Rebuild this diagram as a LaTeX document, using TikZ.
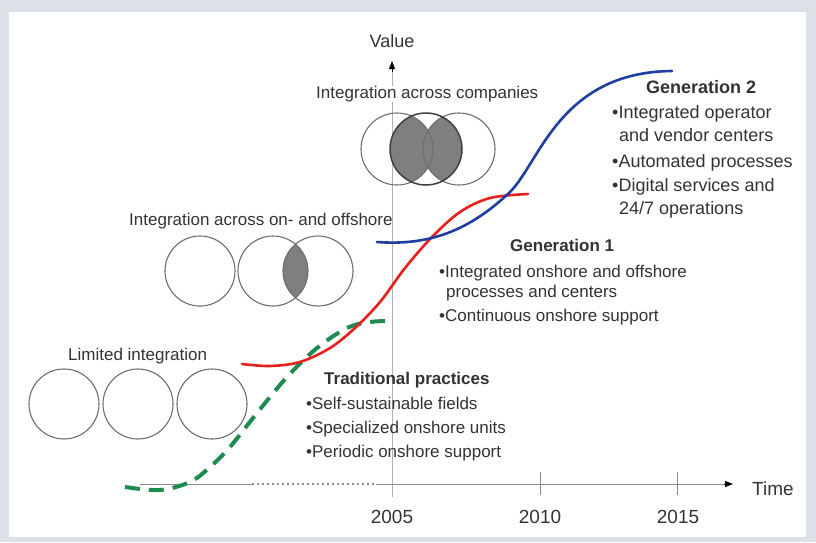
\documentclass[tikz,border=0pt]{standalone}
\usepackage{fontspec}
\setmainfont{Liberation Sans}
\usetikzlibrary{arrows.meta}
\definecolor{bgc}{HTML}{DCE1E8}
\definecolor{txt}{HTML}{333333}
\definecolor{ringc}{HTML}{6E6E6E}
\definecolor{lensgray}{HTML}{7F7F7F}
\definecolor{axisc}{HTML}{8C8C8C}
\definecolor{gen0}{HTML}{1E8C50}
\definecolor{gen1}{HTML}{E8201C}
\definecolor{gen2}{HTML}{1F3FA0}
\begin{document}
\begin{tikzpicture}[x=1pt,y=-1pt,
  lbl/.style={inner sep=0pt, anchor=base west, text=txt, font=\fontsize{17}{20}\selectfont},
  lblb/.style={lbl, font=\fontsize{17}{20}\selectfont\bfseries},
  lblg/.style={lbl, font=\fontsize{18}{21}\selectfont},
  lblgb/.style={lbl, font=\fontsize{18}{21}\selectfont\bfseries},
  axlbl/.style={inner sep=0pt, anchor=base, text=txt, font=\fontsize{19}{22}\selectfont},
  ring/.style={draw=ringc, line width=1.1pt},
  ringbold/.style={draw=black!75, line width=1.5pt},
  axisline/.style={draw=axisc, line width=0.9pt},
  tick/.style={draw=axisc, line width=0.9pt},
  curve/.style={line width=2.6pt, line cap=round},
  tip/.style={-{Triangle[length=8pt,width=6pt]}}
]
\useasboundingbox (0,0) rectangle (816,542);
\fill[bgc] (0,0) rectangle (816,542);
\fill[white] (9,12) rectangle (806,537);

% axes
\coordinate (ybot) at (392,497);
\coordinate (ytop) at (392,61);
\coordinate (xa) at (140,484);
\coordinate (xb) at (252,484);
\coordinate (xc) at (376,484);
\coordinate (xend) at (733,484);
\draw[draw=black!30, line width=0.9pt] (ybot) -- (392,72);
\draw[tip, draw=black, line width=0.9pt] (392,72) -- (ytop);
\draw[axisline] (xa) -- (xb);
\draw[axisline, line width=1.2pt, dash pattern=on 2pt off 3pt] (xb) -- (xc);
\draw[axisline] (xc) -- (724,484);
\draw[tip, draw=black, line width=0.9pt] (724,484) -- (xend);
\coordinate (t10a) at (540,472); \coordinate (t10b) at (540,495);
\coordinate (t15a) at (677,472); \coordinate (t15b) at (677,495);
\draw[tick] (t10a) -- (t10b);
\draw[tick] (t15a) -- (t15b);

\node[inner sep=0pt, anchor=base, text=txt, font=\fontsize{18}{21}\selectfont] (value) at (392,47) {Value};
\node[axlbl, anchor=base west] (time) at (752,495) {Time};
\node[axlbl] (y05) at (392,523) {2005};
\node[axlbl] (y10) at (540,523) {2010};
\node[axlbl] (y15) at (678,523) {2015};

% circle groups
\node[lbl] (limited) at (68,360) {Limited integration};
\draw[ring] (64,404) circle (35pt);
\draw[ring] (138,404) circle (35pt);
\draw[ring] (212,404) circle (35pt);

\node[lbl] (onoff) at (129,225) {Integration across on- and offshore};
\begin{scope}
  \clip (273,271) circle (35pt);
  \fill[lensgray] (318,271) circle (35pt);
\end{scope}
\draw[ring] (200,271) circle (35pt);
\draw[ring] (273,271) circle (35pt);
\draw[ring] (318,271) circle (35pt);

\node[lbl, fill=white] (comp) at (316,98) {Integration across companies};
\begin{scope}
  \clip (426,149) circle (36pt);
  \fill[lensgray] (397,149) circle (36pt);
  \fill[lensgray] (459,149) circle (36pt);
\end{scope}
\draw[ring] (397,149) circle (36pt);
\draw[ring] (459,149) circle (36pt);
\draw[ringbold] (426,149) circle (36pt);

% curves
\draw[curve, gen0, line width=4pt, dash pattern=on 15pt off 9pt, line cap=butt]
  plot[smooth, tension=0.55] coordinates {(125,487) (160,490) (190,482) (210,467) (230,447) (257,413) (287,377) (317,348) (347,328) (370,322) (391,321)};
\draw[curve, gen1]
  plot[smooth, tension=0.55] coordinates {(242,364) (270,366) (300,362) (330,348) (355,328) (380,302) (405,268) (432,237) (460,212) (490,198) (528,194)};
\draw[curve, gen2]
  (377,242) .. controls (430,246) and (470,230) .. (510,192)
  .. controls (540,162) and (560,72) .. (672,71);

% text blocks
\node[lblb] (trad) at (324,384) {Traditional practices};
\node[lbl] (trad1) at (306,409) {•Self-sustainable fields};
\node[lbl] (trad2) at (306,433) {•Specialized onshore units};
\node[lbl] (trad3) at (306,457) {•Periodic onshore support};

\node[lblb] (g1) at (510,251) {Generation 1};
\node[lbl] (g1a) at (439,277) {•Integrated onshore and offshore};
\node[lbl] (g1b) at (446,297) {processes and centers};
\node[lbl] (g1c) at (439,321) {•Continuous onshore support};

\node[lblgb] (g2) at (646,93) {Generation 2};
\node[lblg] (g2a) at (612,118) {•Integrated operator};
\node[lblg] (g2b) at (619,141) {and vendor centers};
\node[lblg] (g2c) at (612,167) {•Automated processes};
\node[lblg] (g2d) at (612,191) {•Digital services and};
\node[lblg] (g2e) at (619,214) {24/7 operations};
\end{tikzpicture}
\end{document}
